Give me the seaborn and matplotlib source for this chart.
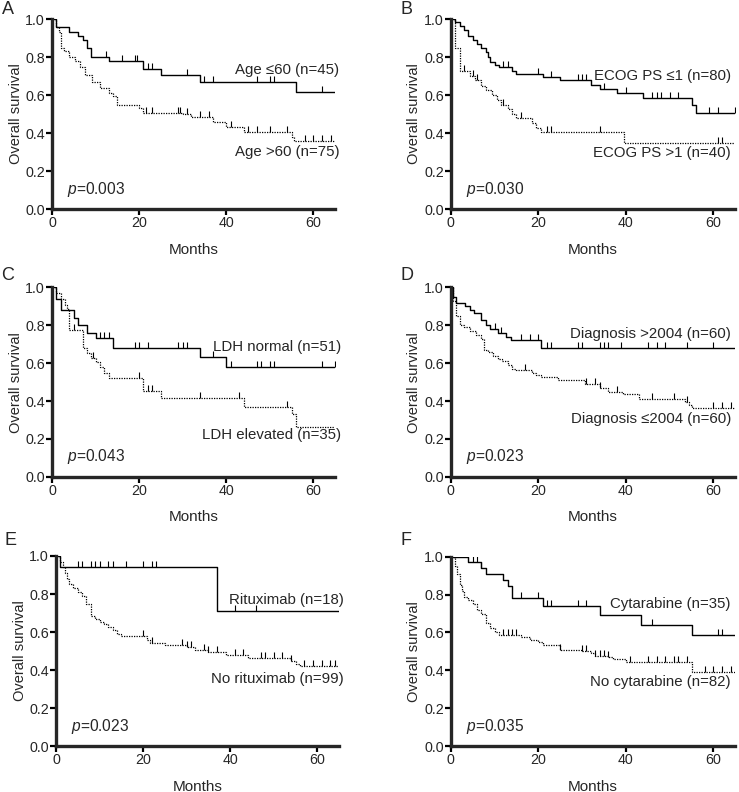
import numpy as np
import pandas as pd
import matplotlib
matplotlib.use("Agg")
import matplotlib.pyplot as plt
import seaborn as sns

# --- Datos (tiempo en meses, supervivencia) ---
# A: edad
a_solid_t = [0, 1, 4, 6, 7, 8, 9, 13, 21, 25, 34, 56, 65]
a_solid_s = [1.0, 0.956, 0.933, 0.911, 0.889, 0.847, 0.80, 0.777, 0.739, 0.705, 0.668, 0.614, 0.614]
a_solid_c = [12.5, 16, 19, 19.5, 22, 23, 31, 35, 37, 47, 50, 51, 62]
a_dot_t = [0, 1, 1.5, 2, 2.7, 4, 5.3, 6.5, 7.6, 9.2, 11, 13, 14, 15, 20, 21, 30, 32, 37, 40, 44, 55, 55.5, 65]
a_dot_s = [1.0, 0.96, 0.93, 0.847, 0.83, 0.80, 0.78, 0.75, 0.707, 0.67, 0.637, 0.61, 0.593, 0.55, 0.53, 0.505, 0.50, 0.482, 0.458, 0.43, 0.404, 0.38, 0.358, 0.358]
a_dot_c = [21.5, 23, 29, 29.5, 31, 34, 36, 41, 45, 47, 50, 54, 58, 60, 62, 64]

# B: ECOG PS
b_solid_t = [0, 1, 2, 3, 4, 5, 6, 7, 8, 8.5, 9, 10, 11, 14, 15, 21, 25, 32, 34, 38, 44, 55, 56, 65]
b_solid_s = [1.0, 0.985, 0.965, 0.94, 0.91, 0.89, 0.87, 0.85, 0.825, 0.80, 0.775, 0.76, 0.745, 0.725, 0.712, 0.693, 0.677, 0.654, 0.633, 0.61, 0.584, 0.55, 0.505, 0.505]
b_solid_c = [12, 13, 20, 23, 29, 30, 31, 35, 40, 46, 47, 48, 50, 52, 59, 61, 65]
b_dot_t = [0, 1, 2, 4.5, 5.5, 7, 8, 9.5, 10.5, 11.5, 13, 14, 15, 18.5, 19.5, 20.5, 39.5, 65]
b_dot_s = [1.0, 0.85, 0.725, 0.70, 0.68, 0.65, 0.625, 0.60, 0.575, 0.55, 0.525, 0.50, 0.478, 0.452, 0.428, 0.405, 0.35, 0.35]
b_dot_c = [3, 5, 6, 12, 16, 22, 23, 34, 61, 62]

# C: LDH
c_solid_t = [0, 1, 2, 5, 6, 8, 10, 14, 34, 40, 65]
c_solid_s = [1.0, 0.94, 0.88, 0.84, 0.80, 0.76, 0.735, 0.679, 0.635, 0.582, 0.582]
c_solid_c = [11, 12, 13, 19, 20, 22, 29, 30, 31, 37, 41, 47, 48, 50, 51, 62, 65]
c_dot_t = [0, 1, 2, 3, 3.5, 4, 7, 8, 9, 10, 11, 12, 13, 21, 25, 44, 55, 56, 65]
c_dot_s = [1.0, 0.97, 0.94, 0.91, 0.885, 0.776, 0.678, 0.655, 0.63, 0.605, 0.58, 0.55, 0.524, 0.453, 0.414, 0.37, 0.33, 0.265, 0.265]
c_dot_c = [5, 9.5, 20, 22, 23, 34, 43, 54]

# D: año de diagnóstico
d_solid_t = [0, 0.5, 1.3, 3.2, 4.3, 5.4, 7, 8, 9, 10.7, 12.6, 13.7, 20.6, 65]
d_solid_s = [1.0, 0.95, 0.92, 0.90, 0.88, 0.865, 0.83, 0.80, 0.78, 0.76, 0.74, 0.72, 0.68, 0.68]
d_solid_c = [10, 11.5, 16, 18, 20, 22, 23, 29, 30, 34, 35, 36, 39, 45, 47, 49, 54, 60]
d_dot_t = [0, 0.5, 1.3, 2, 3, 4.5, 5.8, 7, 7.7, 8.5, 9.6, 10.7, 11.8, 13, 14, 15, 18.6, 19.5, 20.6, 24.6, 30.6, 34, 36, 39.3, 43, 53.6, 54.5, 55.2, 65]
d_dot_s = [1.0, 0.93, 0.85, 0.804, 0.79, 0.77, 0.75, 0.73, 0.67, 0.66, 0.64, 0.62, 0.61, 0.59, 0.57, 0.565, 0.55, 0.54, 0.527, 0.51, 0.49, 0.47, 0.45, 0.436, 0.41, 0.395, 0.38, 0.365, 0.365]
d_dot_c = [17, 31, 33, 34, 38, 46, 51, 54, 60, 62, 64]

# E: rituximab
e_solid_t = [0, 1, 37, 65]
e_solid_s = [1.0, 0.942, 0.709, 0.709]
e_solid_c = [5, 6, 8, 9, 10, 12, 13, 16, 20, 22, 23, 41, 46]
e_dot_t = [0, 1, 1.5, 2, 2.5, 3, 4, 5, 6, 7, 8, 9, 10, 11, 12, 13, 14, 15, 21, 21.5, 25, 30, 32, 35, 39, 44, 54, 55, 56, 65]
e_dot_s = [1.0, 0.97, 0.94, 0.91, 0.88, 0.85, 0.83, 0.81, 0.79, 0.75, 0.684, 0.67, 0.655, 0.64, 0.625, 0.61, 0.59, 0.577, 0.56, 0.542, 0.53, 0.52, 0.507, 0.495, 0.48, 0.463, 0.45, 0.43, 0.419, 0.419]
e_dot_c = [20, 22, 29, 30, 31, 34, 35, 37, 41, 43, 47, 48, 50, 52, 54, 57, 59, 61, 63, 64]

# F: citarabina
f_solid_t = [0, 4, 7, 8, 12, 13, 14, 21, 34, 43.5, 55, 65]
f_solid_s = [1.0, 0.97, 0.94, 0.91, 0.877, 0.847, 0.78, 0.741, 0.69, 0.642, 0.589, 0.589]
f_solid_c = [5, 6, 7, 16, 20, 22, 23, 29, 31, 46, 61, 62]
f_dot_t = [0, 1, 1.5, 2, 2.5, 3, 4, 5, 6, 7, 8, 9, 10, 11, 16, 18, 20, 21, 25, 30, 32, 33, 36, 37, 40, 55, 65]
f_dot_s = [1.0, 0.95, 0.91, 0.85, 0.82, 0.79, 0.77, 0.75, 0.72, 0.70, 0.65, 0.625, 0.60, 0.585, 0.575, 0.56, 0.55, 0.532, 0.51, 0.50, 0.49, 0.478, 0.47, 0.46, 0.444, 0.39, 0.39]
f_dot_c = [12, 13, 14, 15, 25, 30, 31, 33, 34, 35, 36, 41, 45, 47, 49, 51, 52, 54, 58, 60, 62, 64]

letras = ["A", "B", "C", "D", "E", "F"]
etiquetas_solid = ["Age \u226460 (n=45)", "ECOG PS \u22641 (n=80)", "LDH normal (n=51)",
                   "Diagnosis >2004 (n=60)", "Rituximab (n=18)", "Cytarabine (n=35)"]
etiquetas_dot = ["Age >60 (n=75)", "ECOG PS >1 (n=40)", "LDH elevated (n=35)",
                 "Diagnosis \u22642004 (n=60)", "No rituximab (n=99)", "No cytarabine (n=82)"]
valores_p = ["0.003", "0.030", "0.043", "0.023", "0.023", "0.035"]

curvas = [
    (a_solid_t, a_solid_s, a_solid_c, a_dot_t, a_dot_s, a_dot_c),
    (b_solid_t, b_solid_s, b_solid_c, b_dot_t, b_dot_s, b_dot_c),
    (c_solid_t, c_solid_s, c_solid_c, c_dot_t, c_dot_s, c_dot_c),
    (d_solid_t, d_solid_s, d_solid_c, d_dot_t, d_dot_s, d_dot_c),
    (e_solid_t, e_solid_s, e_solid_c, e_dot_t, e_dot_s, e_dot_c),
    (f_solid_t, f_solid_s, f_solid_c, f_dot_t, f_dot_s, f_dot_c),
]

# posiciones de texto (datos): y de etiqueta sólida, y de etiqueta punteada, x derecha
pos_solid_y = [0.73, 0.70, 0.688, 0.753, 0.767, 0.748]
pos_dot_y = [0.298, 0.295, 0.219, 0.307, 0.351, 0.339]
pos_x_der = [66.0, 64.0, 66.5, 64.0, 66.1, 64.0]

# --- Estilo ---
sns.set_style("ticks")
plt.rcParams["font.family"] = ["Liberation Sans", "DejaVu Sans"]
plt.rcParams["mathtext.fontset"] = "custom"
plt.rcParams["mathtext.it"] = "Liberation Sans:italic"
plt.rcParams["mathtext.rm"] = "Liberation Sans"

fig = plt.figure(figsize=(7.39, 7.92), dpi=100)

rects = [
    [0.0704, 0.736, 0.383, 0.240],
    [0.610, 0.736, 0.385, 0.240],
    [0.0704, 0.398, 0.383, 0.239],
    [0.610, 0.398, 0.385, 0.239],
    [0.0758, 0.058, 0.383, 0.240],
    [0.610, 0.058, 0.385, 0.239],
]
letra_pos = [(0.002, 0.988), (0.542, 0.988), (0.002, 0.652), (0.542, 0.652), (0.006, 0.318), (0.542, 0.318)]


def valor_en(t, s, tc):
    idx = np.searchsorted(np.array(t), np.array(tc), side="right") - 1
    return np.array(s)[idx]


for i, (st, ss, sc, dt, ds, dc) in enumerate(curvas):
    ax = fig.add_axes(rects[i])
    df_s = pd.DataFrame({"t": st, "s": ss})
    df_d = pd.DataFrame({"t": dt, "s": ds})
    sns.lineplot(data=df_d, x="t", y="s", ax=ax, color="black", lw=0.9,
                 linestyle=(0, (1, 1)), drawstyle="steps-post", estimator=None, sort=False)
    sns.lineplot(data=df_s, x="t", y="s", ax=ax, color="black", lw=1.0,
                 drawstyle="steps-post", estimator=None, sort=False)
    # marcas de censura
    ax.plot(sc, valor_en(st, ss, sc), ls="none", marker=2, ms=4, mew=0.8, color="black")
    ax.plot(dc, valor_en(dt, ds, dc), ls="none", marker=2, ms=4, mew=0.8, color="black")

    ax.set_xlim(0, 65)
    ax.set_ylim(0, 1.0)
    ax.set_xticks([0, 20, 40, 60])
    ax.set_yticks([0.0, 0.2, 0.4, 0.6, 0.8, 1.0])
    ax.yaxis.set_major_formatter(matplotlib.ticker.FormatStrFormatter("%.1f"))
    ax.tick_params(labelsize=10.3, width=1.6, length=4, color="black", pad=1)
    for lado in ["left", "bottom"]:
        ax.spines[lado].set_linewidth(2.4)
    sns.despine(ax=ax)
    ax.set_xlabel("Months", fontsize=11, labelpad=9)
    ax.set_ylabel("Overall survival", fontsize=10.5, labelpad=2)

    ax.text(pos_x_der[i], pos_solid_y[i], etiquetas_solid[i], ha="right", va="center", fontsize=10.8, clip_on=False)
    ax.text(pos_x_der[i], pos_dot_y[i], etiquetas_dot[i], ha="right", va="center", fontsize=10.8, clip_on=False)
    ax.text(3.4, 0.105, "$p$=" + valores_p[i], ha="left", va="center", fontsize=11.2)

    fig.text(letra_pos[i][0], letra_pos[i][1], letras[i], fontsize=13, ha="left", va="center")

plt.savefig("out.png", dpi=100)
